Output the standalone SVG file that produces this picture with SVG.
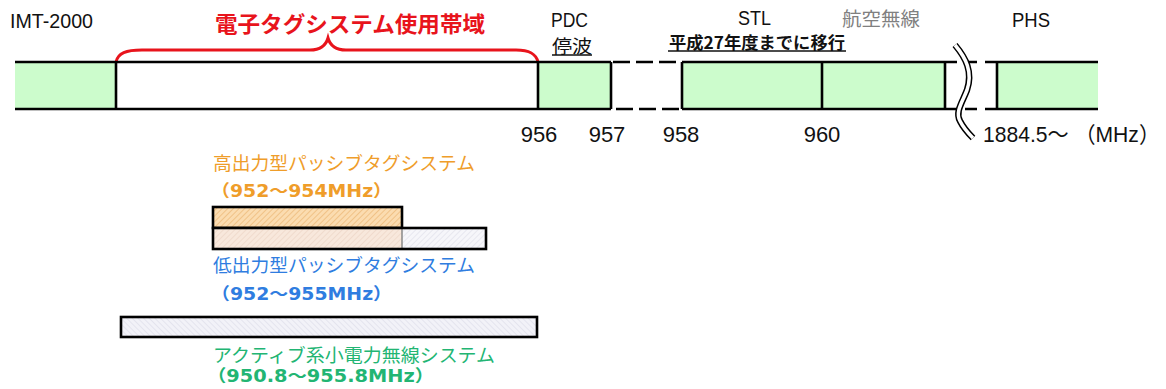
<svg xmlns="http://www.w3.org/2000/svg" width="1166" height="389" viewBox="0 0 1166 389">
<defs>
<style>
.lat{font-family:"Liberation Sans",Arial,"Noto Sans CJK JP",sans-serif;fill:#111;}
.jp{font-family:"Noto Sans CJK JP",sans-serif;}
.num{font-family:"Liberation Sans",Arial,sans-serif;font-size:22px;fill:#111;}
.green{fill:#ccfccc;}
.mhz{font-family:"DejaVu Sans","Noto Sans CJK JP",sans-serif;font-weight:bold;font-size:17px;}
.band{stroke:#000;stroke-width:2.6;}
</style>
<pattern id="hOrange" width="4" height="4" patternUnits="userSpaceOnUse" patternTransform="rotate(45)">
<rect width="4" height="4" fill="#fbdcb0"/>
<line x1="0" y1="0" x2="0" y2="4" stroke="#e9b06c" stroke-width="1.2"/>
</pattern>
<pattern id="hLightOrange" width="4" height="4" patternUnits="userSpaceOnUse" patternTransform="rotate(45)">
<rect width="4" height="4" fill="#f8e8dc"/>
<line x1="0" y1="0" x2="0" y2="4" stroke="#e8cfbf" stroke-width="1"/>
</pattern>
<pattern id="hGray" width="4" height="4" patternUnits="userSpaceOnUse" patternTransform="rotate(45)">
<rect width="4" height="4" fill="#f6f6fa"/>
<line x1="0" y1="0" x2="0" y2="4" stroke="#d8d8e4" stroke-width="1"/>
</pattern>
<pattern id="hLav" width="4" height="4" patternUnits="userSpaceOnUse" patternTransform="rotate(-45)">
<rect width="4" height="4" fill="#f2f2f8"/>
<line x1="0" y1="0" x2="0" y2="4" stroke="#d6d6e4" stroke-width="1"/>
</pattern>
</defs>
<rect width="1166" height="389" fill="#fff"/>

<g id="band-imt">
<rect x="15" y="62" width="101" height="47" class="green"/>
<text x="10" y="28" class="lat" font-size="20" textLength="83" lengthAdjust="spacingAndGlyphs">IMT-2000</text>
</g>

<g id="band-rfid">
<rect x="116" y="62" width="422" height="47" fill="#fff"/>
<text x="215" y="32" class="jp" font-size="22" font-weight="bold" fill="#e8141c" textLength="270" lengthAdjust="spacingAndGlyphs">電子タグシステム使用帯域</text>
<path d="M116,62 C118,53 126,50 142,50 L310,50 C321,50 326,45 328,38 C330,45 335,50 346,50 L516,50 C530,50 536,54 538,62" fill="none" stroke="#e8141c" stroke-width="3"/>
</g>

<g id="band-pdc">
<rect x="538" y="62" width="73" height="47" class="green"/>
<text x="551" y="27" class="lat" font-size="20" textLength="37" lengthAdjust="spacingAndGlyphs">PDC</text>
<text x="552" y="53" class="jp" font-size="18" fill="#111" textLength="40" lengthAdjust="spacingAndGlyphs">停波</text>
<line x1="552" y1="55" x2="592" y2="55" stroke="#111" stroke-width="1.3"/>
</g>

<g id="band-stl">
<rect x="682" y="62" width="140" height="47" class="green"/>
<text x="738" y="25" class="lat" font-size="20" textLength="33" lengthAdjust="spacingAndGlyphs">STL</text>
<text x="669" y="49" class="jp" font-size="16.5" font-weight="bold" fill="#111" textLength="176" lengthAdjust="spacingAndGlyphs">平成27年度までに移行</text>
<line x1="668" y1="51" x2="846" y2="51" stroke="#111" stroke-width="1.3"/>
</g>

<g id="band-aero">
<rect x="822" y="62" width="123" height="47" class="green"/>
<text x="842" y="26" class="jp" font-size="19" fill="#808080" textLength="78" lengthAdjust="spacingAndGlyphs">航空無線</text>
</g>

<g id="band-phs">
<rect x="997" y="62" width="101" height="47" class="green"/>
<text x="1012" y="27" class="lat" font-size="20" textLength="38" lengthAdjust="spacingAndGlyphs">PHS</text>
</g>

<g id="connectors">
<line x1="15" y1="62" x2="611" y2="62" class="band"/>
<line x1="15" y1="109" x2="611" y2="109" class="band"/>
<line x1="116" y1="62" x2="116" y2="109" class="band"/>
<line x1="538" y1="62" x2="538" y2="109" class="band"/>
<line x1="611" y1="62" x2="611" y2="109" class="band"/>
<line x1="613" y1="62" x2="682" y2="62" class="band" stroke-dasharray="17 6"/>
<line x1="616" y1="109" x2="682" y2="109" class="band" stroke-dasharray="17 6"/>
<line x1="682" y1="62" x2="945" y2="62" class="band"/>
<line x1="682" y1="109" x2="945" y2="109" class="band"/>
<line x1="682" y1="62" x2="682" y2="109" class="band"/>
<line x1="822" y1="62" x2="822" y2="109" class="band"/>
<line x1="945" y1="62" x2="945" y2="109" class="band"/>
<line x1="945" y1="62" x2="997" y2="62" class="band" stroke-dasharray="12 8"/>
<line x1="945" y1="109" x2="997" y2="109" class="band" stroke-dasharray="12 8"/>
<line x1="997" y1="62" x2="1098" y2="62" class="band"/>
<line x1="997" y1="109" x2="1098" y2="109" class="band"/>
<line x1="997" y1="62" x2="997" y2="109" class="band"/>
<path d="M955,45 C966,58 973,72 967,90 C962,103 955,112 960,121 C964,129 968,133 973,138" fill="none" stroke="#000" stroke-width="6.5"/>
<path d="M955,45 C966,58 973,72 967,90 C962,103 955,112 960,121 C964,129 968,133 973,138" fill="none" stroke="#fff" stroke-width="3.5"/>
</g>

<g id="axis-labels">
<text x="539" y="142" class="num" text-anchor="middle">956</text>
<text x="607" y="142" class="num" text-anchor="middle">957</text>
<text x="681" y="142" class="num" text-anchor="middle">958</text>
<text x="822" y="142" class="num" text-anchor="middle">960</text>
<text x="983" y="142" class="lat" font-size="22" textLength="177" lengthAdjust="spacingAndGlyphs">1884.5～ （MHz）</text>
</g>

<g id="high-power-passive">
<rect x="213" y="207" width="189" height="21" fill="url(#hOrange)" stroke="#000" stroke-width="2.6"/>
<text x="213" y="170" class="jp" font-size="18.5" fill="#ef9d2a" textLength="262" lengthAdjust="spacingAndGlyphs">高出力型パッシブタグシステム</text>
<text x="211" y="197" class="mhz" fill="#ef9d2a" textLength="181" lengthAdjust="spacingAndGlyphs">（952～954MHz）</text>
</g>

<g id="low-power-passive">
<rect x="213" y="228" width="189" height="21" fill="url(#hLightOrange)"/>
<rect x="402" y="228" width="84" height="21" fill="url(#hGray)"/>
<line x1="402" y1="228" x2="402" y2="249" stroke="#888" stroke-width="1.5"/>
<rect x="213" y="228" width="273" height="21" fill="none" stroke="#000" stroke-width="2.6"/>
<text x="213" y="272" class="jp" font-size="18.5" fill="#2f7de0" textLength="262" lengthAdjust="spacingAndGlyphs">低出力型パッシブタグシステム</text>
<text x="211" y="300" class="mhz" fill="#2f7de0" textLength="181" lengthAdjust="spacingAndGlyphs">（952～955MHz）</text>
</g>

<g id="active-low-power">
<rect x="121" y="317" width="416" height="20" fill="url(#hLav)" stroke="#000" stroke-width="2.6"/>
<text x="213" y="362" class="jp" font-size="18.5" fill="#22b573" textLength="282" lengthAdjust="spacingAndGlyphs">アクティブ系小電力無線システム</text>
<text x="207" y="382" class="mhz" fill="#22b573" textLength="227" lengthAdjust="spacingAndGlyphs">（950.8～955.8MHz）</text>
</g>
</svg>
